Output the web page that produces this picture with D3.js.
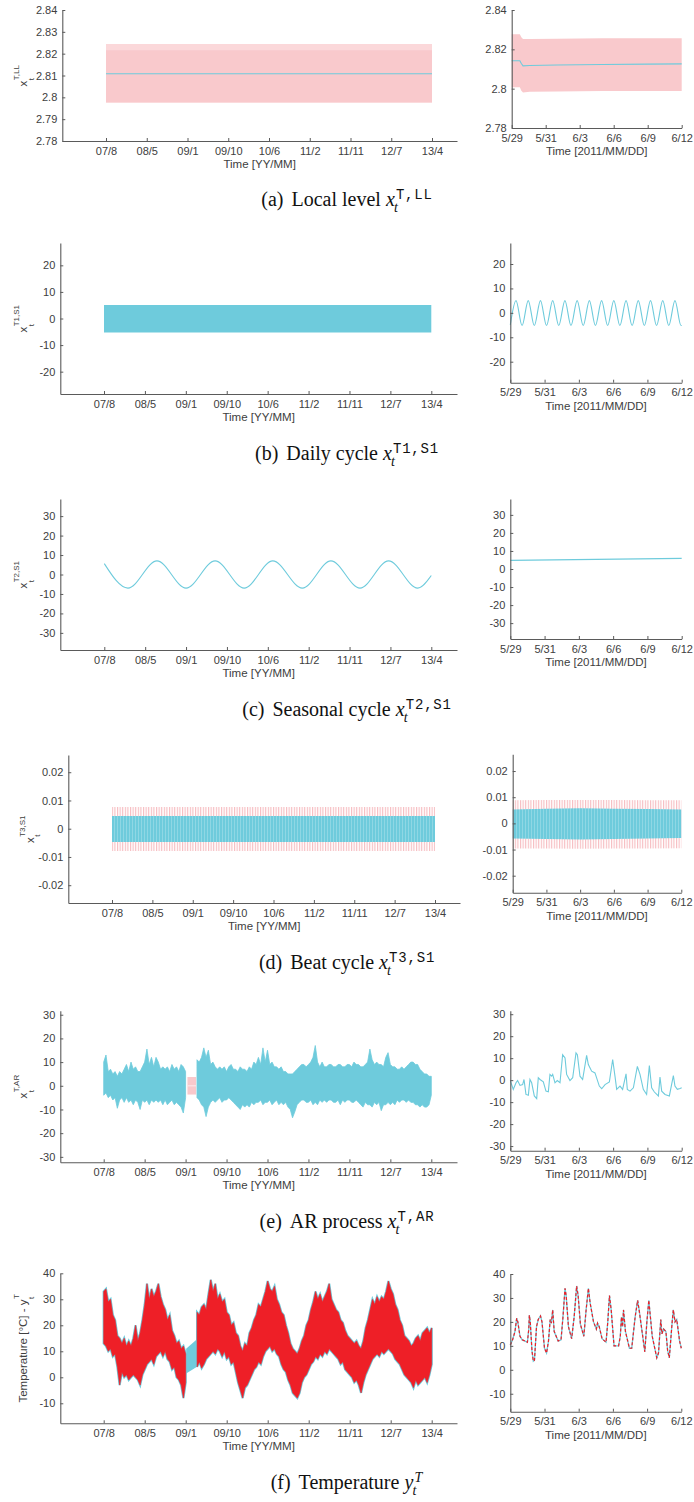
<!DOCTYPE html>
<html>
<head>
<meta charset="utf-8">
<script src="https://cdn.jsdelivr.net/npm/d3@7"></script>
<style>
  html, body { margin: 0; padding: 0; background: #fff; }
  svg { display: block; }
</style>
</head>
<body>
<svg id="chart" width="694" height="1502"></svg>
<script>
// ---- shared tick data ----
const longTickMonths = [0, 9, 18, 27, 36, 45, 54, 63, 72];
const longTickLabels = ['07/8', '08/5', '09/1', '09/10', '10/6', '11/2', '11/11', '12/7', '13/4'];
const zoomTickDays = [0, 3, 6, 9, 12, 15];
const zoomTickLabels = ['5/29', '5/31', '6/3', '6/6', '6/9', '6/12'];

// ---- (a) local level ----
const levelLongMonths = [0, 72];
const levelLongValue = [2.8108, 2.8108];
const levelLongBandLo = [2.7976, 2.7976];
const levelLongBandHi = [2.8244, 2.8244];
const levelLongBandInnerHi = [2.8216, 2.8216];
const levelZoomDays = [0, 0.72, 0.85, 1.0, 1.6, 4, 8, 12, 15];
const levelZoomValue = [2.8142, 2.8142, 2.8128, 2.8116, 2.8118, 2.8120, 2.8123, 2.8125, 2.8126];
const levelZoomBandHi = [2.8277, 2.8277, 2.8262, 2.8253, 2.8253, 2.8254, 2.8256, 2.8256, 2.8256];
const levelZoomBandLo = [2.8007, 2.8007, 2.7990, 2.7981, 2.7984, 2.7985, 2.7988, 2.7988, 2.7988];
const levelTicksLong = [2.78, 2.79, 2.8, 2.81, 2.82, 2.83, 2.84];
const levelTicksZoom = [2.78, 2.8, 2.82, 2.84];

// ---- (b) daily cycle ----
const dailyLongMonths = [0, 72];
const dailyLongHi = [5.05, 5.05];
const dailyLongLo = [-5.25, -5.25];
const dailyZoomDays = [0, 0.50, 1.03, 1.57, 2.10, 2.64, 3.17, 3.71, 4.24, 4.78, 5.31, 5.85, 6.38, 6.92, 7.45,
  7.99, 8.52, 9.06, 9.59, 10.13, 10.66, 11.20, 11.73, 12.27, 12.80, 13.34, 13.87, 14.41, 14.94, 15];
const dailyZoomValue = [-4.9, 5, -5.2, 5, -5.2, 5, -5.2, 5, -5.2, 5, -5.2, 5, -5.2, 5, -5.2,
  5, -5.2, 5, -5.2, 5, -5.2, 5, -5.2, 5, -5.2, 5, -5.2, 5, -5.2, -5.2];
const dailyTicks = [-20, -10, 0, 10, 20];

// ---- (c) seasonal cycle ----
const seasonalLongMonths = [0, 5.2, 11.6, 18.0, 24.4, 30.8, 37.1, 43.6, 49.9, 56.3, 62.6, 69.0, 72];
const seasonalLongValue = [5.6, -7, 7, -7, 7, -7, 7, -7, 7, -7, 7, -7, -0.5];
const seasonalZoomDays = [0, 15];
const seasonalZoomValue = [4.8, 5.9];
const seasonalTicks = [-30, -20, -10, 0, 10, 20, 30];

// ---- (d) beat cycle ----
const beatLongMonths = [0, 72];
const beatLongBlueHi = [0.0045, 0.0045];
const beatLongBlueLo = [-0.0047, -0.0047];
const beatLongPinkHi = [0.0077, 0.0077];
const beatLongPinkLo = [-0.0079, -0.0079];
const beatZoomDays = [0, 3, 6, 9, 12, 15];
const beatZoomBlueHi = [0.0053, 0.0056, 0.0058, 0.0056, 0.0055, 0.0053];
const beatZoomBlueLo = [-0.0058, -0.0060, -0.0062, -0.0060, -0.0058, -0.0056];
const beatZoomPinkHi = [0.0088, 0.0089, 0.0089, 0.0089, 0.0088, 0.0088];
const beatZoomPinkLo = [-0.0096, -0.0096, -0.0097, -0.0096, -0.0096, -0.0095];
const beatTicks = [-0.02, -0.01, 0, 0.01, 0.02];

// ---- (e) AR process: envelope of the dense series every half month (null = missing data) ----
const halfMonths = d3.range(0, 72.5, 0.5);
const arLongHi = [
  10, 13, 6, 7, 5, 6, 4, 6, 5, 7, 9, 6,
  10, 7, 8, 6, 6, 8, 10, 15.5, 9, 12, 8, 12,
  10, 7, 8, 7, 8, 6, 9, 7, 8, 6, 9, 8,
  6, null, null, null, null, 11, 10, 12, 16, 12, 15, 9,
  10, 8, 7, 8, 7, 8, 6, 8, 9, 7, 7, 6,
  8, 7, 7, 6, 8, 7, 10, 9, 12, 9, 16, 10,
  15, 9, 10, 8, 8, 7, 8, 6, 6, 5, 5, 5,
  6, 7, 8, 9, 9, 8, 9, 10, 12, 17, 10, 8,
  10, 8, 8, 9, 9, 8, 8, 9, 9, 8, 8, 9,
  9, 8, 10, 9, 9, 8, 8, 9, 10, 15.5, 11, 9,
  10, 9, 9, 8, 12, 14, 9, 8, 8, 7, 7, 8,
  7, 8, 9, 10, 10, 9, 9, 7, 6, 5, 5, 4,
  4];
const arLongLo = [
  -4, -3, -5, -4, -6, -5, -9.5, -6, -5, -7, -5, -7,
  -6, -8, -6, -7, -10, -6, -7, -6, -8, -6, -7, -6,
  -7, -6, -8, -6, -8, -7, -6, -8, -7, -8, -9, -11.5,
  -5, null, null, null, null, -5, -6, -8, -9, -13, -9, -7,
  -6, -7, -6, -5, -7, -6, -6, -5, -6, -7, -8, -9,
  -10, -8, -9, -8, -9, -7, -8, -7, -7, -6, -8, -7,
  -7, -6, -8, -7, -6, -8, -7, -8, -7, -9, -10, -13.5,
  -11, -8, -7, -6, -6, -7, -7, -6, -8, -7, -8, -6,
  -7, -6, -7, -6, -6, -7, -7, -6, -8, -6, -7, -6,
  -6, -7, -7, -6, -7, -8, -9, -7, -8, -8, -9, -7,
  -8, -7, -10.5, -8, -8, -7, -8, -7, -8, -6, -7, -6,
  -6, -7, -6, -7, -7, -8, -8, -9, -8, -9, -9, -8,
  -4];
const arGapMonths = [18.4, 20.3];
const arGapHi = [3.7, 3.7];
const arGapLo = [-3.7, -3.7];
const arZoomDays = [0, 0.26, 0.5, 0.64, 0.85, 1.08, 1.2, 1.37, 1.58, 1.72, 1.87, 2.1, 2.31, 2.45, 2.6, 2.89,
  3.12, 3.33, 3.47, 3.62, 3.71, 3.91, 4.11, 4.35, 4.58, 4.79, 4.93, 5.22, 5.46, 5.75, 5.87, 6.1, 6.33,
  6.68, 6.83, 7.12, 7.41, 7.79, 8.0, 8.29, 8.67, 8.96, 9.16, 9.31, 9.6, 9.83, 10.13, 10.24, 10.48,
  10.77, 11.12, 11.35, 11.64, 11.93, 12.17, 12.37, 12.61, 12.96, 13.1, 13.25, 13.54, 13.92, 14.27,
  14.41, 14.62, 14.85, 15.0];
const arZoomValue = [-0.2, -4.2, -1.2, -0.2, -2.4, -2, 0.3, -6.5, -6.9, 0.3, -1.2, -7.2, -8.4, 1.1, 0.3, -0.8,
  -5, -5.3, 2.6, 1.8, 2.6, -1.2, -0.2, -1.2, 11.6, 10.1, 2.6, -0.2, 1.1, 12.4, 11.6, 1.8, 0.3,
  11.3, 7.1, 4.1, 3.3, -2.7, -3.9, -2, -0.8, 9.4, 1.8, -4.2, -2.7, -4.2, 2.9, -4.2, -5,
  -3.5, 6.3, 2.6, -4.2, -6.5, 6.6, -3.5, -5.4, -7.2, 1.4, -5, -6.5, -7.2, 2.1,
  -2.7, -4.2, -3.8, -3.5];
const arTicks = [-30, -20, -10, 0, 10, 20, 30];

// ---- (f) temperature: envelope of the dense series every half month (null = missing data) ----
const tempLongHi = [
  33, 34, 29, 30, 24, 22, 16, 15, 13, 15, 12, 14,
  12, 15, 20, 14, 17, 22, 28, 36, 30, 34, 31, 33,
  36, 31, 28, 26, 22, 24, 18, 16, 13, 14, 11, 12,
  9, null, null, null, null, 25, 24, 27, 28, 26, 32, 37.5,
  33, 36, 30, 32, 29, 30, 25, 24, 20, 21, 17, 16,
  12, 10, 13, 12, 17, 19, 22, 24, 28, 27, 30, 33,
  37, 34, 33, 35, 30, 28, 25, 24, 20, 17, 13, 11,
  10, 9, 11, 14, 16, 20, 22, 26, 29, 33, 30, 32,
  29, 31, 33, 36, 30, 28, 26, 25, 22, 21, 18, 16,
  15, 14, 13, 14, 12, 11, 14, 19, 22, 26, 30, 28,
  31, 29, 31, 30, 33, 37, 34, 32, 28, 26, 22, 20,
  16, 15, 14, 12, 13, 15, 16, 14, 17, 18, 19, 17,
  19];
const tempLongLo = [
  13, 12, 10, 11, 8, 9, 4, -3, 2, 0, 1, -1,
  0, 1, 0, -1, -3, 1, 3, 5, 6, 7, 5, 8,
  9, 10, 8, 10, 7, 6, 3, 4, 0, -1, -3, -8,
  -2, null, null, null, null, 4, 6, 3.5, 5, 7, 8, 9,
  10, 9, 11, 10, 8, 10, 7, 8, 5, 6, 2, -2,
  -5, -8, -4, -3, -1, 1, 3, 4, 6, 5, 8, 10,
  11, 12, 10, 11, 9, 8, 5, 3, 2, -1, -3, -6,
  -7, -8, -6, -2, 0, 1, 3, 5, 6, 8, 7, 9,
  8, 10, 9, 11, 10, 9, 8, 7, 5, 6, 3, 2,
  1, 0, -2, -1, -3, -6, -2, 1, 3, 5, 7, 8,
  9, 8, 10, 9, 10, 11, 10, 9, 7, 6, 5, 3,
  1, 0, -1, -2, -4, -1, -3, -2, -1, 0, -2, 1,
  5];
const tempGapMonths = [18.1, 20.4];
const tempGapHi = [11, 14.5];
const tempGapLo = [1.5, 4];
const tempZoomDays = [0, 0.2, 0.41, 0.56, 0.66, 0.85, 1.05, 1.3, 1.5, 1.62, 1.67, 1.75, 1.9, 2.02, 2.12, 2.3,
  2.45, 2.65, 2.78, 3.0, 3.18, 3.35, 3.5, 3.6, 3.72, 3.85, 4.2, 4.45, 4.62, 4.8, 4.9, 5.1, 5.38, 5.6,
  5.82, 5.95, 6.15, 6.45, 6.65, 6.85, 7.0, 7.3, 7.55, 7.65, 7.8, 8.05, 8.4, 8.55, 8.7, 8.85, 9.1, 9.5,
  9.65, 9.75, 9.85, 9.93, 10.1, 10.45, 10.65, 10.95, 11.17, 11.3, 11.8, 11.98, 12.15, 12.45, 12.85,
  13.0, 13.2, 13.3, 13.45, 13.65, 13.8, 13.95, 14.2, 14.3, 14.45, 14.6, 14.85, 15.0];
const tempZoomValue = [10.3, 12.5, 16, 21.5, 20, 14, 12.5, 12, 11.5, 17, 22.8, 20, 8, 3.6, 4, 18,
  21, 22.5, 20, 9, 7, 12, 21, 19.5, 25, 16, 12, 12.5, 22, 34, 31, 18, 13, 22,
  35, 31, 19, 14, 25, 34, 28, 20, 17, 19.5, 18, 13, 11.5, 20, 31, 25, 10, 10,
  14, 22, 18, 25, 16, 9, 9, 22, 29, 25, 7.5, 20, 29, 14, 5,
  7, 21, 15, 17, 16, 8, 5, 20, 25, 20, 21, 12, 9];
const tempTicks = [-10, 0, 10, 20, 30, 40];

// ---- styling ----
const BLUE = '#6ecbdc', PINK = '#f9c9cc', RED = '#ee1f27', AXIS = '#5a5a5a', TXT = '#404040';
const SANS = '"Liberation Sans", Arial, sans-serif';
const SERIF = '"Liberation Serif", "Times New Roman", serif';
const MONO = '"Liberation Mono", "DejaVu Sans Mono", monospace';

const svg = d3.select('#chart');
const defs = svg.append('defs');
const pinkPat = defs.append('pattern').attr('id', 'pinkStripes')
  .attr('patternUnits', 'userSpaceOnUse').attr('width', 2.6).attr('height', 10);
pinkPat.append('rect').attr('width', 1.1).attr('height', 10).attr('fill', '#f6bcc0');
const bluePat = defs.append('pattern').attr('id', 'blueStripes')
  .attr('patternUnits', 'userSpaceOnUse').attr('width', 3).attr('height', 10);
bluePat.append('rect').attr('width', 3).attr('height', 10).attr('fill', BLUE);
bluePat.append('rect').attr('width', 0.5).attr('height', 10).attr('fill', '#fff').attr('opacity', 0.45);

const fmt = v => String(+v.toFixed(4));

// Builds the left (long) and right (zoom) axes of one panel.
function panel(cfg){
  const L = cfg.left, R = cfg.right;
  const xl = d3.scaleLinear().domain([0, 72]).range([L.xFirst, L.xLast]);
  xl.domain([xl.invert(L.x0), xl.invert(L.xEnd)]).range([L.x0, L.xEnd]);
  const yl = d3.scaleLinear().domain(cfg.yDomainLeft).range([L.bottom, L.top]);
  const xr = d3.scaleLinear().domain([0, 15]).range([R.x0, R.xEnd]);
  const yr = d3.scaleLinear().domain(cfg.yDomainRight).range([R.bottom, R.top]);
  const gl = svg.append('g').attr('class', 'panel-left');
  const gr = svg.append('g').attr('class', 'panel-right');
  cfg.drawLeft(gl.append('g'), xl, yl);
  cfg.drawRight(gr.append('g'), xr, yr);
  axes(gl, xl, yl, longTickMonths, longTickLabels, cfg.yTicksLeft, 'Time [YY/MM]');
  axes(gr, xr, yr, zoomTickDays, zoomTickLabels, cfg.yTicksRight, 'Time [2011/MM/DD]');
  yLabel(cfg.ylabel, cfg.ylabelX || 27, (L.top + L.bottom) / 2);
  caption(cfg.caption);
}

function axes(g, x, y, xTicks, xLabels, yTicks, title){
  const ax = g.append('g').attr('transform', `translate(0,${y.range()[0]})`)
    .call(d3.axisBottom(x).tickValues(xTicks).tickFormat((d, i) => xLabels[i])
      .tickSizeInner(-3).tickSizeOuter(0).tickPadding(5.8));
  const ay = g.append('g').attr('transform', `translate(${x.range()[0]},0)`)
    .call(d3.axisLeft(y).tickValues(yTicks).tickFormat(fmt)
      .tickSizeInner(-3).tickSizeOuter(0).tickPadding(5));
  [ax, ay].forEach(a => {
    a.attr('font-family', SANS).attr('font-size', 11);
    a.select('.domain').attr('stroke', AXIS).attr('stroke-width', 1.1);
    a.selectAll('.tick line').attr('stroke', AXIS);
    a.selectAll('.tick text').attr('fill', TXT);
  });
  g.append('text')
    .attr('x', (x.range()[0] + x.range()[1]) / 2)
    .attr('y', y.range()[0] + 27)
    .attr('text-anchor', 'middle')
    .attr('font-family', SANS).attr('font-size', 11.5).attr('fill', TXT)
    .text(title);
}

function yLabel(lab, px, cy){
  const g = svg.append('g').attr('transform', `translate(${px},${cy}) rotate(-90)`);
  const inner = g.append('g').attr('font-family', SANS).attr('fill', TXT);
  const base = inner.append('text').attr('font-size', 11.5).text(lab.base);
  const w = base.node().getComputedTextLength();
  inner.append('text').attr('x', w + 0.5).attr('y', -8.2).attr('font-size', 8).text(lab.sup);
  inner.append('text').attr('x', w + 0.5).attr('y', 6.5).attr('font-size', 8).text(lab.sub);
  const bb = inner.node().getBBox();
  inner.attr('transform', `translate(${-(bb.x + bb.width / 2)},0)`);
}

function caption(c){
  const g = svg.append('g');
  const t = g.append('text').attr('font-family', SERIF).attr('font-size', 20).attr('fill', '#111');
  t.append('tspan').text(c.tag);
  t.append('tspan').attr('dx', 8).text(c.text + ' ');
  t.append('tspan').attr('font-style', 'italic').text(c.math);
  const bb = t.node().getBBox();
  const right = bb.x + bb.width;
  const sup = g.append('text').attr('x', right + 1).attr('y', -7).attr('fill', '#111');
  if(c.supMono){
    sup.attr('font-family', MONO).attr('font-size', 14).attr('letter-spacing', 0.8);
  } else {
    sup.attr('font-family', SERIF).attr('font-size', 14).attr('font-style', 'italic');
  }
  sup.text(c.sup);
  g.append('text').attr('x', right - 1).attr('y', 6).attr('fill', '#111')
    .attr('font-family', SERIF).attr('font-size', 14).attr('font-style', 'italic').text(c.sub);
  const all = g.node().getBBox();
  g.attr('transform', `translate(${347 - (all.x + all.width / 2)},${c.y})`);
}

// ---- mark helpers ----
function band(g, x, y, xs, lo, hi, fill){
  const data = xs.map((m, i) => ({m, lo: lo[i], hi: hi[i]}));
  return g.append('path').datum(data)
    .attr('d', d3.area().defined(d => d.hi != null).x(d => x(d.m)).y0(d => y(d.lo)).y1(d => y(d.hi)))
    .attr('fill', fill);
}
function line(g, x, y, xs, vs, color, curve){
  const data = xs.map((m, i) => ({m, v: vs[i]}));
  return g.append('path').datum(data)
    .attr('d', d3.line().curve(curve || d3.curveLinear).x(d => x(d.m)).y(d => y(d.v)))
    .attr('fill', 'none').attr('stroke', color).attr('stroke-width', 1.1);
}

// ---- panels ----
const panels = [
  {
    left: {x0: 62.3, xFirst: 106, xLast: 432, xEnd: 457, top: 10, bottom: 141},
    right: {x0: 511.7, xEnd: 681.7, top: 10, bottom: 128},
    yDomainLeft: [2.78, 2.84], yDomainRight: [2.78, 2.84],
    yTicksLeft: levelTicksLong, yTicksRight: levelTicksZoom,
    ylabel: {base: 'x', sub: 't', sup: 'T,LL'},
    caption: {tag: '(a)', text: 'Local level', math: 'x', sub: 't', sup: 'T,LL', supMono: true, y: 206},
    drawLeft(g, x, y){
      band(g, x, y, levelLongMonths, levelLongBandLo, levelLongBandHi, '#fbd8da');
      band(g, x, y, levelLongMonths, levelLongBandLo, levelLongBandInnerHi, PINK);
      line(g, x, y, levelLongMonths, levelLongValue, BLUE);
    },
    drawRight(g, x, y){
      band(g, x, y, levelZoomDays, levelZoomBandLo, levelZoomBandHi, PINK);
      line(g, x, y, levelZoomDays, levelZoomValue, BLUE);
    }
  },
  {
    left: {x0: 60.3, xFirst: 104, xLast: 431.3, xEnd: 457, top: 243, bottom: 394},
    right: {x0: 510.3, xEnd: 681.7, top: 243, bottom: 382.7},
    yDomainLeft: [-28.4, 28.4], yDomainRight: [-28.6, 28.6],
    yTicksLeft: dailyTicks, yTicksRight: dailyTicks,
    ylabel: {base: 'x', sub: 't', sup: 'T1,S1'},
    caption: {tag: '(b)', text: 'Daily cycle', math: 'x', sub: 't', sup: 'T1,S1', supMono: true, y: 460},
    drawLeft(g, x, y){ band(g, x, y, dailyLongMonths, dailyLongLo, dailyLongHi, BLUE); },
    drawRight(g, x, y){ line(g, x, y, dailyZoomDays, dailyZoomValue, BLUE, d3.curveMonotoneX); }
  },
  {
    left: {x0: 60.3, xFirst: 104.3, xLast: 431.3, xEnd: 457, top: 499, bottom: 650},
    right: {x0: 510.3, xEnd: 681.7, top: 499, bottom: 639},
    yDomainLeft: [-38.8, 38.8], yDomainRight: [-38.8, 38.8],
    yTicksLeft: seasonalTicks, yTicksRight: seasonalTicks,
    ylabel: {base: 'x', sub: 't', sup: 'T2,S1'},
    caption: {tag: '(c)', text: 'Seasonal cycle', math: 'x', sub: 't', sup: 'T2,S1', supMono: true, y: 716},
    drawLeft(g, x, y){ line(g, x, y, seasonalLongMonths, seasonalLongValue, BLUE, d3.curveMonotoneX); },
    drawRight(g, x, y){ line(g, x, y, seasonalZoomDays, seasonalZoomValue, BLUE); }
  },
  {
    left: {x0: 68.3, xFirst: 112, xLast: 435, xEnd: 460, top: 755, bottom: 903},
    right: {x0: 512.7, xEnd: 681.3, top: 754.3, bottom: 892.7},
    yDomainLeft: [-0.0263, 0.0261], yDomainRight: [-0.0265, 0.0264],
    yTicksLeft: beatTicks, yTicksRight: beatTicks,
    ylabel: {base: 'x', sub: 't', sup: 'T3,S1'}, ylabelX: 33.5,
    caption: {tag: '(d)', text: 'Beat cycle', math: 'x', sub: 't', sup: 'T3,S1', supMono: true, y: 969},
    drawLeft(g, x, y){
      band(g, x, y, beatLongMonths, beatLongPinkLo, beatLongPinkHi, 'url(#pinkStripes)');
      band(g, x, y, beatLongMonths, beatLongBlueLo, beatLongBlueHi, 'url(#blueStripes)');
    },
    drawRight(g, x, y){
      band(g, x, y, beatZoomDays, beatZoomPinkLo, beatZoomPinkHi, 'url(#pinkStripes)');
      band(g, x, y, beatZoomDays, beatZoomBlueLo, beatZoomBlueHi, 'url(#blueStripes)');
    }
  },
  {
    left: {x0: 60.3, xFirst: 103.7, xLast: 431.3, xEnd: 457, top: 1010.7, bottom: 1162.3},
    right: {x0: 510.3, xEnd: 681.7, top: 1010.7, bottom: 1150.7},
    yDomainLeft: [-32.3, 31.7], yDomainRight: [-32.1, 31.6],
    yTicksLeft: arTicks, yTicksRight: arTicks,
    ylabel: {base: 'x', sub: 't', sup: 'T,AR'},
    caption: {tag: '(e)', text: 'AR process', math: 'x', sub: 't', sup: 'T,AR', supMono: true, y: 1228},
    drawLeft(g, x, y){
      band(g, x, y, arGapMonths, arGapLo, arGapHi, PINK);
      g.append('line').attr('x1', x(arGapMonths[0])).attr('x2', x(arGapMonths[1]))
        .attr('y1', y(0)).attr('y2', y(0)).attr('stroke', '#fde6e8').attr('stroke-width', 1.2);
      band(g, x, y, halfMonths, arLongLo, arLongHi, BLUE)
        .attr('stroke', BLUE).attr('stroke-width', 0.8);
    },
    drawRight(g, x, y){ line(g, x, y, arZoomDays, arZoomValue, BLUE); }
  },
  {
    left: {x0: 60.3, xFirst: 103.7, xLast: 431.7, xEnd: 457, top: 1273.3, bottom: 1423.3},
    right: {x0: 510.3, xEnd: 681.3, top: 1274, bottom: 1411.7},
    yDomainLeft: [-17.7, 40], yDomainRight: [-17.5, 40],
    yTicksLeft: tempTicks, yTicksRight: tempTicks,
    ylabel: {base: 'Temperature [\u00B0C] - y', sub: 't', sup: 'T'},
    caption: {tag: '(f)', text: 'Temperature', math: 'y', sub: 't', sup: 'T', supMono: false, y: 1489},
    drawLeft(g, x, y){
      band(g, x, y, halfMonths, tempLongLo, tempLongHi, BLUE)
        .attr('stroke', BLUE).attr('stroke-width', 2.2);
      band(g, x, y, tempGapMonths, tempGapLo, tempGapHi, BLUE);
      band(g, x, y, halfMonths, tempLongLo, tempLongHi, RED)
        .attr('stroke', RED).attr('stroke-width', 0.6);
    },
    drawRight(g, x, y){
      line(g, x, y, tempZoomDays, tempZoomValue, BLUE).attr('stroke-width', 1.3);
      line(g, x, y, tempZoomDays, tempZoomValue, RED).attr('stroke-width', 1.2).attr('stroke-dasharray', '3,2');
    }
  }
];

panels.forEach(panel);
</script>
</body>
</html>
